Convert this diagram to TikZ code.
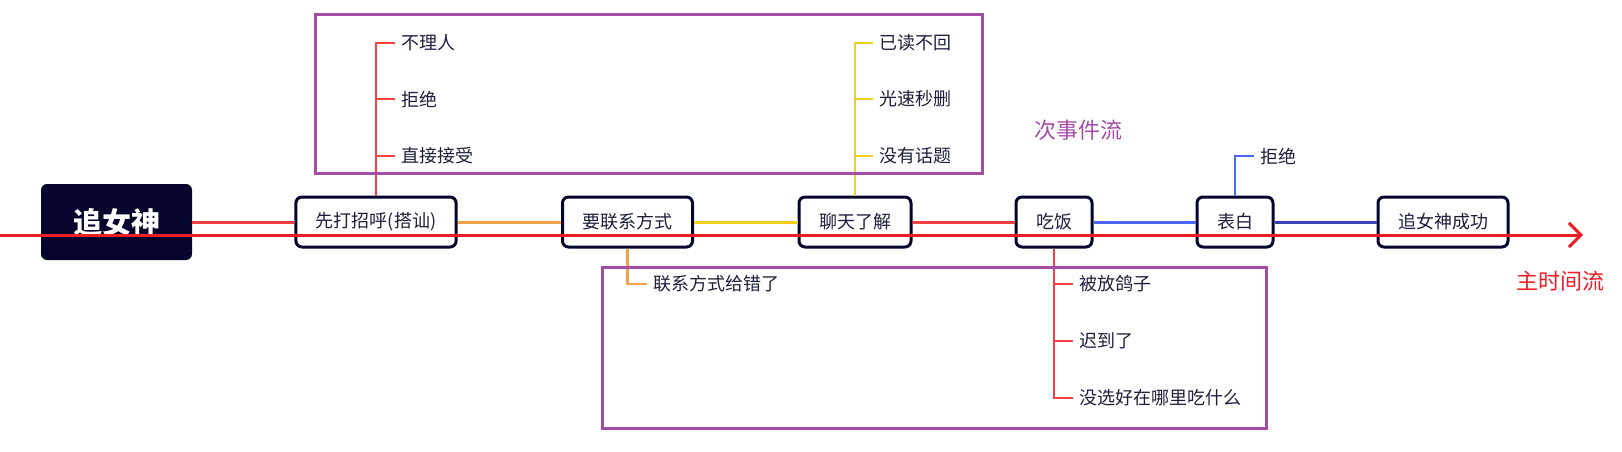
\documentclass[tikz,border=0pt]{standalone}
\usepackage{fontspec}
\setmainfont{Noto Sans CJK SC}
\usepackage{xcolor}
\usetikzlibrary{arrows.meta}
\definecolor{navy}{HTML}{05052E}
\definecolor{ink}{HTML}{1E1E3C}
\definecolor{mainred}{HTML}{EE1C25}
\definecolor{linkred}{HTML}{F5403F}
\definecolor{linkorange}{HTML}{F5A04A}
\definecolor{linkyellow}{HTML}{F2CF1F}
\definecolor{linkblue}{HTML}{4A6AF5}
\definecolor{linkdeep}{HTML}{3E3EB5}
\definecolor{boxpurple}{HTML}{A44CA6}

\begin{document}
\begin{tikzpicture}[x=1pt,y=-1pt,
  event/.style={draw=navy,line width=3pt,rounded corners=6pt,fill=white,minimum height=50pt,inner xsep=20pt,font=\fontsize{18}{18}\selectfont,text=ink},
  leaf/.style={anchor=west,inner sep=6pt,font=\fontsize{18}{18}\selectfont,text=ink},
  link/.style={line width=3pt},
  twig/.style={line width=2.4pt},
  frame/.style={draw=boxpurple,line width=3pt}]
\useasboundingbox (0,0) rectangle (1622,452);
\node[fill=navy,rounded corners=6pt,minimum width=151pt,minimum height=76pt,text=white,font=\fontsize{29}{29}\selectfont\bfseries] (root) at (116.5,222) {追女神};
\node[event] (n1) at (376,222) {先打招呼(搭讪)};
\node[event] (n2) at (627.5,222) {要联系方式};
\node[event] (n3) at (855,222) {聊天了解};
\node[event] (n4) at (1054,222) {吃饭};
\node[event] (n5) at (1235,222) {表白};
\node[event] (n6) at (1443,222) {追女神成功};
\draw[link,linkred] (root) -- (n1);
\draw[link,linkorange] (n1) -- (n2);
\draw[link,linkyellow] (n2) -- (n3);
\draw[link,linkred] (n3) -- (n4);
\draw[link,linkblue] (n4) -- (n5);
\draw[link,linkdeep] (n5) -- (n6);
\node[leaf] (a1) at (395,43) {不理人};
\node[leaf] (a2) at (395,99) {拒绝};
\node[leaf] (a3) at (395,156) {直接接受};
\node[leaf] (c1) at (873,43) {已读不回};
\node[leaf] (c2) at (873,99) {光速秒删};
\node[leaf] (c3) at (873,156) {没有话题};
\node[leaf] (b1) at (647,284) {联系方式给错了};
\node[leaf] (d1) at (1073,284) {被放鸽子};
\node[leaf] (d2) at (1073,341) {迟到了};
\node[leaf] (d3) at (1073,398) {没选好在哪里吃什么};
\node[leaf] (e1) at (1254,156) {拒绝};
\foreach \x in {a1,a2,a3} \draw[twig,linkred] (n1.north) |- (\x.west);
\foreach \x in {c1,c2,c3} \draw[twig,linkyellow] (n3.north) |- (\x.west);
\draw[twig,linkorange] (n2.south) |- (b1.west);
\foreach \x in {d1,d2,d3} \draw[twig,linkred] (n4.south) |- (\x.west);
\draw[twig,linkblue] (n5.north) |- (e1.west);
\draw[frame] (315,15) rectangle (982,173);
\draw[frame] (602,267) rectangle (1266,428);
\coordinate (tstart) at (0,235);
\coordinate (tend) at (1583,235);
\draw[line width=3pt,mainred,-{Straight Barb[length=12pt,width=24pt]}] (tstart) -- (tend);
\node[text=boxpurple,font=\fontsize{22}{22}\selectfont] (sub) at (1078,130) {次事件流};
\node[text=mainred,font=\fontsize{22}{22}\selectfont] (mainflow) at (1560,281) {主时间流};
\end{tikzpicture}
\end{document}
